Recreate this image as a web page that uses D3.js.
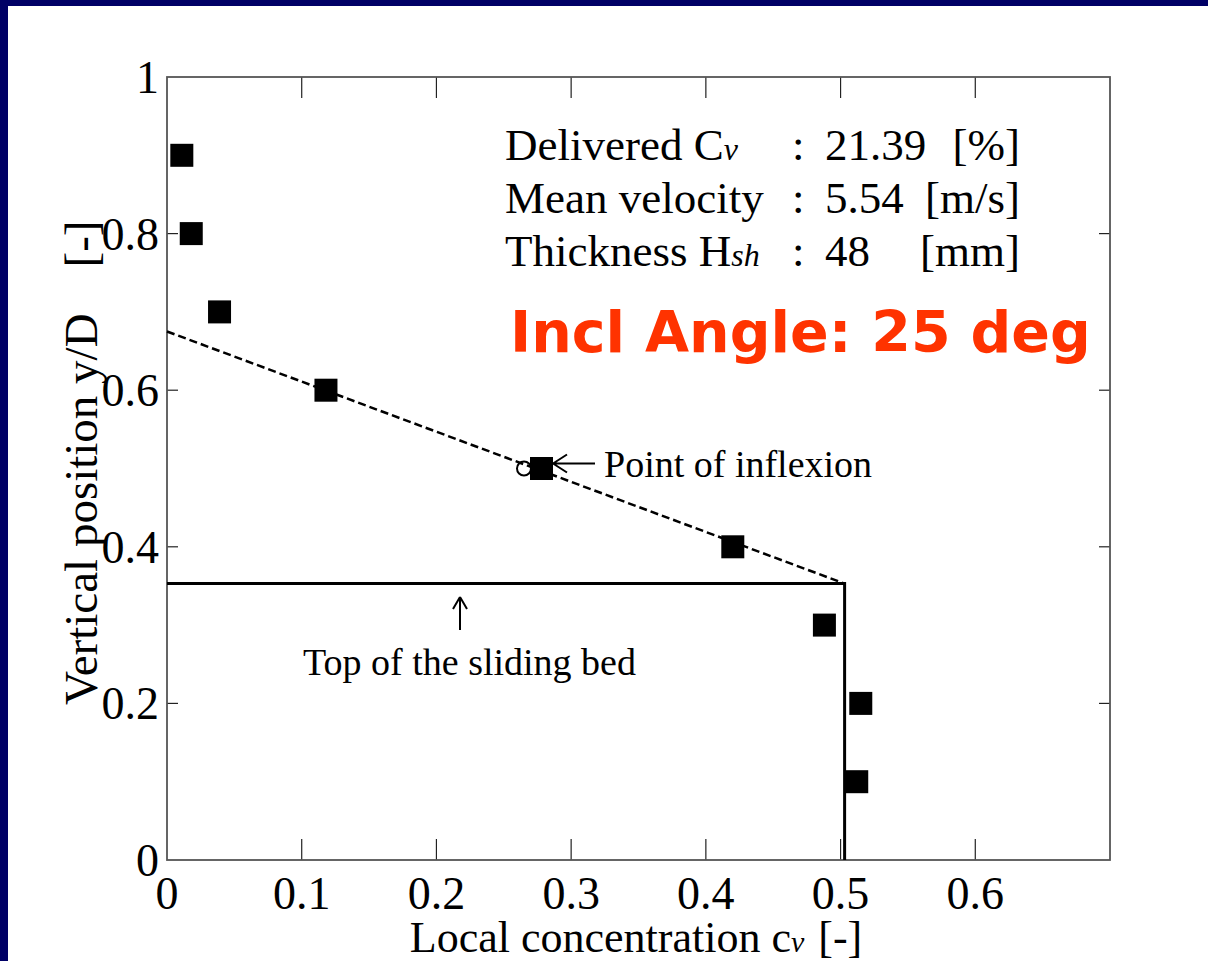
<!DOCTYPE html>
<html>
<head>
<meta charset="utf-8">
<script src="https://cdn.jsdelivr.net/npm/d3@7"></script>
<style>
	html, body { margin: 0; background: #000066; overflow: hidden; }
	svg { display: block; position: absolute; left: 0; top: 0; }
	text { font-family: "Liberation Serif", "Times New Roman", serif; fill: #000; }
	text.incl { font-family: "DejaVu Sans", Verdana, sans-serif; font-weight: bold; fill: #ff3300; }
</style>
</head>
<body>
<div id="root"></div>
<script>
// measured points
const cvValues = [0.011, 0.018, 0.039, 0.118, 0.278, 0.42, 0.488, 0.515, 0.512];
const yValues = [0.9, 0.8, 0.7, 0.6, 0.5, 0.4, 0.3, 0.2, 0.1];

// dashed fit line and the sliding bed outline
const fitLine = [[0, 0.675], [0.503, 0.353]];
const bedLine = [[0, 0.353], [0.503, 0.353], [0.503, 0]];
const inflexion = [0.265, 0.5];

const xTicks = [0, 0.1, 0.2, 0.3, 0.4, 0.5, 0.6];
const yTicks = [0, 0.2, 0.4, 0.6, 0.8, 1];
const yTickLabels = ["0", "0.2", "0.4", "0.6", "0.8", "1"];

const infoRows = [
	["Delivered C", "v", "21.39", "[%]"],
	["Mean velocity", "", "5.54", "[m/s]"],
	["Thickness H", "sh", "48", "[mm]"]
];

function whenDocumentLoaded(action) {
	if (document.readyState === "loading") {
		document.addEventListener("DOMContentLoaded", action);
	} else {
		action();
	}
}

function drawChart() {
	const width = 1208;
	const height = 961;
	const plot = {left: 167, top: 77, right: 1110, bottom: 860};

	let svg = d3.select("#root")
		.append("svg")
		.attr("width", width)
		.attr("height", height);

	// white page inside the navy border
	svg.append("rect")
		.attr("x", 8).attr("y", 6)
		.attr("width", width - 8).attr("height", height - 6)
		.attr("fill", "#fff");

	const x = d3.scaleLinear().domain([0, 0.7]).range([plot.left, plot.right]);
	const y = d3.scaleLinear().domain([0, 1]).range([plot.bottom, plot.top]);

	// ticks pointing inward on all four sides
	const ticks = svg.append("g").attr("stroke", "#222").attr("stroke-width", 1.2);
	xTicks.slice(1).forEach(t => {
		ticks.append("line").attr("x1", x(t)).attr("x2", x(t)).attr("y1", plot.bottom).attr("y2", plot.bottom - 21);
		ticks.append("line").attr("x1", x(t)).attr("x2", x(t)).attr("y1", plot.top).attr("y2", plot.top + 21);
	});
	yTicks.slice(1, -1).forEach(t => {
		ticks.append("line").attr("x1", plot.left).attr("x2", plot.left + 11).attr("y1", y(t)).attr("y2", y(t));
		ticks.append("line").attr("x1", plot.right).attr("x2", plot.right - 11).attr("y1", y(t)).attr("y2", y(t));
	});

	// frame
	svg.append("rect")
		.attr("x", plot.left).attr("y", plot.top)
		.attr("width", plot.right - plot.left).attr("height", plot.bottom - plot.top)
		.attr("fill", "none").attr("stroke", "#555").attr("stroke-width", 1.8);

	// tick labels
	svg.append("g").selectAll("text")
		.data(xTicks)
		.enter()
		.append("text")
		.attr("x", d => x(d))
		.attr("y", 909)
		.attr("text-anchor", "middle")
		.attr("font-size", 46)
		.text(d => d === 0 ? "0" : d3.format(".1f")(d));

	svg.append("g").selectAll("text")
		.data(yTicks)
		.enter()
		.append("text")
		.attr("x", 159)
		.attr("y", d => y(d) + 16)
		.attr("text-anchor", "end")
		.attr("font-size", 46)
		.text((d, i) => yTickLabels[i]);

	// axis titles
	const xLabel = svg.append("text")
		.attr("x", 636).attr("y", 952)
		.attr("text-anchor", "middle")
		.attr("font-size", 44);
	xLabel.append("tspan").text("Local concentration c");
	xLabel.append("tspan").attr("font-style", "italic").attr("font-size", 30).text("v");
	xLabel.append("tspan").attr("dx", 14).text("[-]");

	svg.append("text")
		.attr("transform", "translate(97,705) rotate(-90)")
		.attr("font-size", 47)
		.text("Vertical position y/D");
	svg.append("text")
		.attr("transform", "translate(97,244) rotate(-90)")
		.attr("text-anchor", "middle")
		.attr("font-size", 47)
		.text("[-]");

	// bed outline and fit line
	const line = d3.line().x(d => x(d[0])).y(d => y(d[1]));
	svg.append("path")
		.attr("d", line(bedLine))
		.attr("fill", "none").attr("stroke", "#000").attr("stroke-width", 3);
	svg.append("path")
		.attr("d", line(fitLine))
		.attr("fill", "none").attr("stroke", "#000").attr("stroke-width", 2.5)
		.attr("stroke-dasharray", "8,4");

	// inflexion marker
	svg.append("circle")
		.attr("cx", x(inflexion[0])).attr("cy", y(inflexion[1]))
		.attr("r", 7)
		.attr("fill", "none").attr("stroke", "#000").attr("stroke-width", 2);

	// data squares
	const s = 23;
	svg.append("g").selectAll("rect")
		.data(cvValues)
		.enter()
		.append("rect")
		.attr("x", d => x(d) - s / 2)
		.attr("y", (d, i) => y(yValues[i]) - s / 2)
		.attr("width", s).attr("height", s)
		.attr("fill", "#000");

	// annotation: point of inflexion
	const ay = y(0.5) - 5;
	const arrow = svg.append("g").attr("stroke", "#000").attr("stroke-width", 2).attr("fill", "none");
	arrow.append("path").attr("d", `M553,${ay} L595,${ay} M553,${ay} L567,${ay - 9} M553,${ay} L567,${ay + 9}`);
	svg.append("text")
		.attr("x", 604).attr("y", 477)
		.attr("font-size", 38)
		.text("Point of inflexion");

	// annotation: top of the sliding bed
	arrow.append("path").attr("d", "M460,597 L460,630 M460,597 L453,609 M460,597 L467,609");
	svg.append("text")
		.attr("x", 303).attr("y", 675)
		.attr("font-size", 38)
		.text("Top of the sliding bed");

	// info block
	const info = svg.append("g");
	infoRows.forEach((r, i) => {
		const by = 160 + i * 53;
		const t = info.append("text").attr("x", 505).attr("y", by).attr("font-size", 45);
		t.append("tspan").text(r[0]);
		if (r[1]) t.append("tspan").attr("font-style", "italic").attr("font-size", 32).text(r[1]);
		info.append("text").attr("x", 792).attr("y", by).attr("font-size", 45).text(":");
		info.append("text").attr("x", 825).attr("y", by).attr("font-size", 45).text(r[2]);
		info.append("text").attr("x", 1020).attr("y", by).attr("font-size", 45)
			.attr("text-anchor", "end").text(r[3]);
	});

	svg.append("text")
		.attr("class", "incl")
		.attr("x", 510).attr("y", 352)
		.attr("font-size", 57)
		.text("Incl Angle: 25 deg");
}

whenDocumentLoaded(() => {
	drawChart();
});
</script>
</body>
</html>
